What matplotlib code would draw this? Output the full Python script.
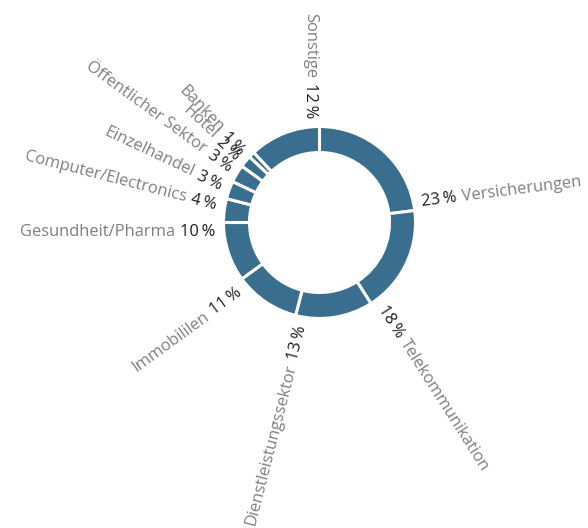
import matplotlib
matplotlib.use("Agg")
import matplotlib.pyplot as plt
import numpy as np
from matplotlib.font_manager import FontProperties

categories = ["Versicherungen", "Telekommunikation", "Dienstleistungssektor", "Immobililen",
              "Gesundheit/Pharma", "Computer/Electronics", "Einzelhandel", "Öffentlicher Sektor",
              "Hotel", "Banken", "Sonstige"]
values = [23, 18, 13, 11, 10, 4, 3, 3, 2, 1, 12]
pct_labels = ["23\u2009%", "18\u2009%", "13\u2009%", "11\u2009%", "10\u2009%", "4\u2009%",
              "3\u2009%", "3\u2009%", "2\u2009%", "1\u2009%", "12\u2009%"]

W, H = 588, 528
fig = plt.figure(figsize=(W / 100, H / 100), dpi=100)
ax = fig.add_axes([0, 0, 1, 1])

color = "#396E8F"
R = 96.0                      # outer radius in px
cx, cy = 319.5, H - 222.5     # centre in px from bottom-left

ax.pie(values, startangle=90, counterclock=False, radius=1,
       colors=[color] * len(values),
       wedgeprops=dict(width=26 / R, edgecolor="white", linewidth=2.2))
ax.set_xlim(-cx / R, (W - cx) / R)
ax.set_ylim(-cy / R, (H - cy) / R)
ax.set_aspect("equal")
ax.axis("off")

family = ["Open Sans", "DejaVu Sans"]
fs = 11.9
fp = FontProperties(family=family, size=fs)
renderer = fig.canvas.get_renderer()


def tw(s):
    w, h, d = renderer.get_text_width_height_descent(s, fp, ismath=False)
    return w / R


r0 = 104 / R
space = tw(" ") + 1.0 / R
off_right = 3 / R
off_left = 13 / R

ends = np.cumsum(values) / sum(values) * 360.0
for name, pct, c in zip(categories, pct_labels, ends):
    th = np.deg2rad(90 - c)
    u = np.array([np.cos(th), np.sin(th)])
    n = np.array([-np.sin(th), np.cos(th)])
    wp = tw(pct)
    if c < 180:
        rot = 90 - c
        ha = "left"
        off = off_right
    else:
        rot = 90 - c + 180
        ha = "right"
        off = off_left
    p1 = r0 * u + off * n
    p2 = (r0 + wp + space) * u + off * n
    ax.text(p1[0], p1[1], pct, rotation=rot, rotation_mode="anchor", ha=ha, va="baseline",
            fontproperties=fp, color="#1e1e1e")
    ax.text(p2[0], p2[1], name, rotation=rot, rotation_mode="anchor", ha=ha, va="baseline",
            fontproperties=fp, color="#808080")

fig.savefig("out.png", dpi=100)
